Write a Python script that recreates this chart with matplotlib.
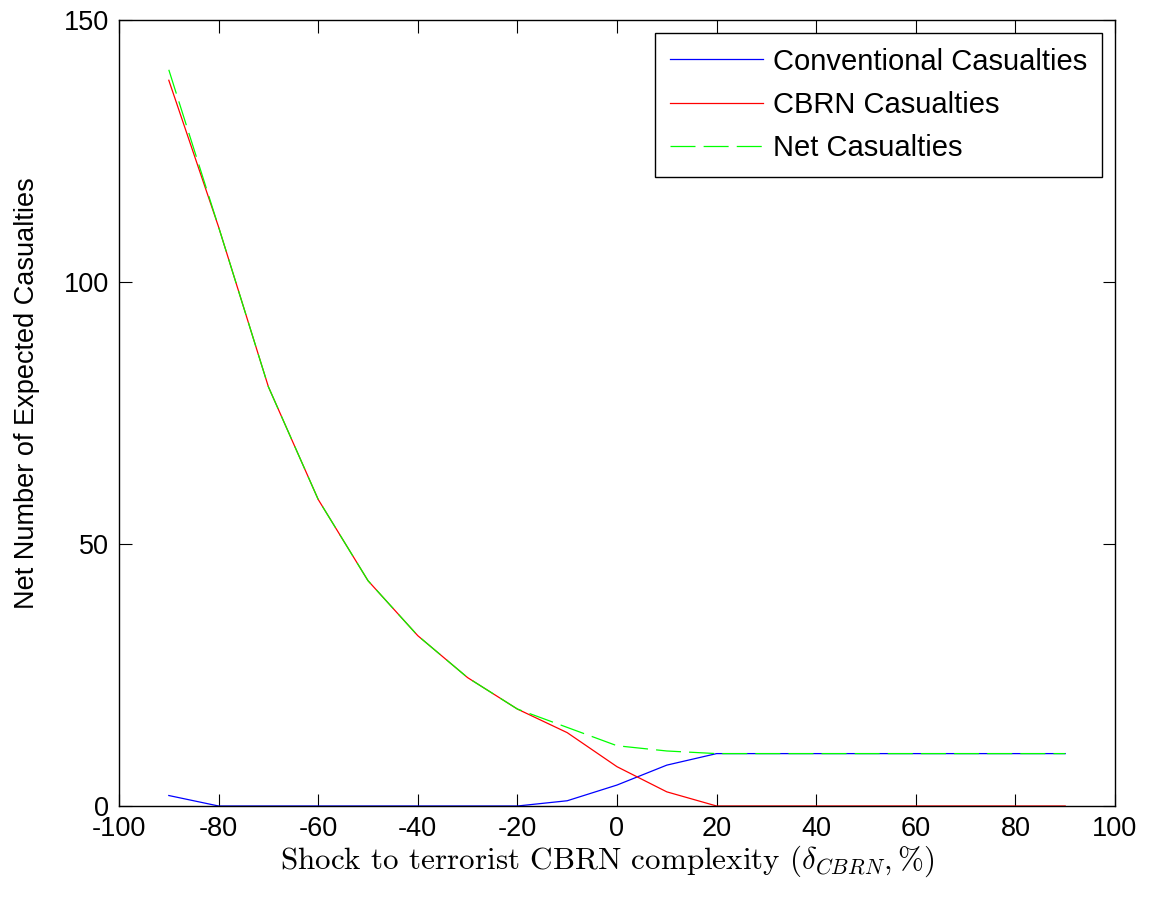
import matplotlib
matplotlib.use("Agg")
import matplotlib.pyplot as plt

shock = [-90, -80, -70, -60, -50, -40, -30, -20, -10, 0, 10, 20, 30, 40, 50, 60, 70, 80, 90]
conventional = [2, 0, 0, 0, 0, 0, 0, 0, 1, 4, 7.8, 10, 10, 10, 10, 10, 10, 10, 10]
cbrn = [138.5, 110.5, 80, 58.5, 43, 32.5, 24.5, 18.5, 14, 7.5, 2.7, 0, 0, 0, 0, 0, 0, 0, 0]
net = [140.5, 110.5, 80, 58.5, 43, 32.5, 24.5, 18.5, 15, 11.5, 10.5, 10, 10, 10, 10, 10, 10, 10, 10]

plt.rcParams['font.family'] = ['Liberation Sans', 'DejaVu Sans']
plt.rcParams['mathtext.fontset'] = 'cm'
plt.rcParams['axes.unicode_minus'] = False

fig = plt.figure(figsize=(11.55, 8.97), dpi=100)
# axes: left 119px, right 1115px, top 20px, bottom 806px
ax = fig.add_axes([119 / 1155, 1 - 806 / 897, (1115 - 119) / 1155, (806 - 20) / 897])

ax.plot(shock, conventional, color='#0000ff', lw=0.9, label='Conventional Casualties')
ax.plot(shock, cbrn, color='#ff0000', lw=0.9, label='CBRN Casualties')
ax.plot(shock, net, color='#00ff00', lw=0.9, ls=(0, (20, 6.5)), label='Net Casualties')

ax.set_xlim(-100, 100)
ax.set_ylim(0, 150)
ax.set_xticks(range(-100, 101, 20))
ax.set_yticks([0, 50, 100, 150])
ax.tick_params(direction='in', top=True, right=True, labelsize=19.5, length=9, width=0.8, pad=7)
for s in ax.spines.values():
    s.set_linewidth(1.0)

ax.set_ylabel('Net Number of Expected Casualties', fontsize=19.5)
ax.yaxis.set_label_coords(-0.0793, 0.525)
ax.set_xlabel(r'Shock to terrorist CBRN complexity ($\delta_{CBRN},\%$)', fontsize=22.4,
              family='cmr10')
ax.xaxis.set_label_coords(0.49, -0.048)

leg = ax.legend(loc='upper right', fontsize=21, frameon=True, fancybox=False,
                edgecolor='black', framealpha=1, handlelength=3.2, borderaxespad=0.45,
                labelspacing=0.52, handletextpad=0.34, borderpad=0.5)
leg.get_frame().set_linewidth(1.0)

fig.savefig('out.png', dpi=100)
